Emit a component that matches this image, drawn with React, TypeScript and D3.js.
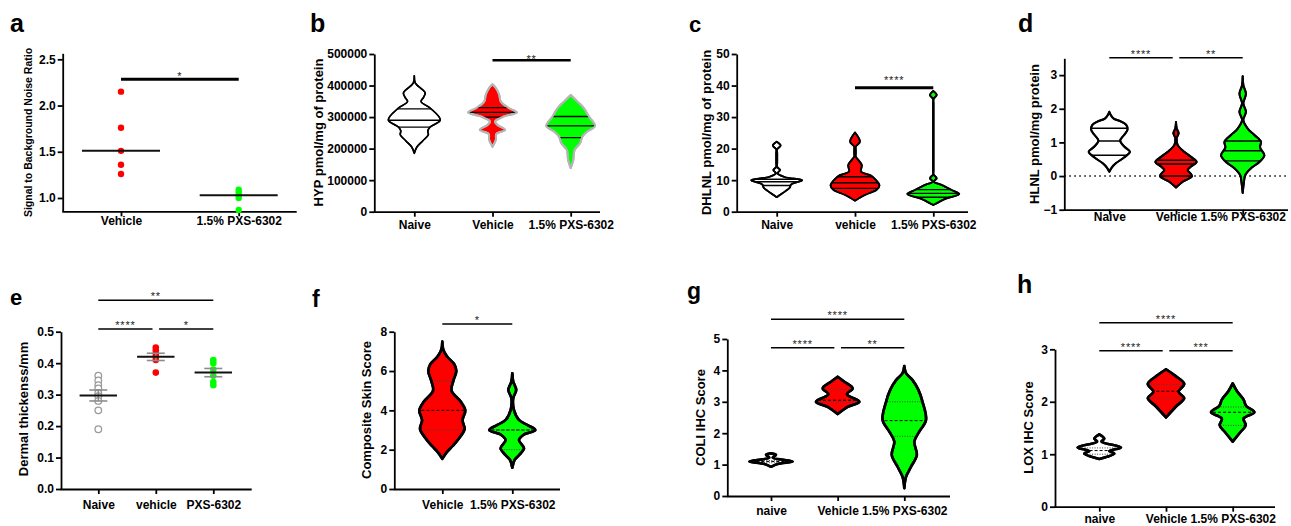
import React, { useRef, useEffect } from "react";
import * as d3 from "d3";

type Prof = [number, number][];

const FONT = "'Liberation Sans', Arial, Helvetica, sans-serif";
const RED = "#ff0000";
const GREEN = "#00ff00";

// ---- panel a: signal / background ----
const catsA = ["Vehicle", "1.5% PXS-6302"];
const ticksA = [1.0, 1.5, 2.0, 2.5];
const aVehicle = [2.15, 1.76, 1.51, 1.36, 1.26];
const aPxs = [1.09, 1.06, 1.03, 1.0, 0.87];

// ---- panel b: HYP (violin profiles: [value, relative density]) ----
const catsB = ["Naive", "Vehicle", "1.5% PXS-6302"];
const ticksB = [0, 100000, 200000, 300000, 400000, 500000];
const bNaive: Prof = [
  [431000, 0], [408000, 0.04], [386000, 0.33], [376000, 0.42], [362000, 0.35], [349000, 0.26],
  [328000, 0.62], [291000, 1.0], [268000, 0.6], [256000, 0.52], [244000, 0.54], [225000, 0.33],
  [205000, 0.1], [185000, 0],
];
const bVehicle: Prof = [
  [404000, 0], [392000, 0.13], [370000, 0.26], [349000, 0.32], [328000, 0.64], [315000, 0.94],
  [302000, 0.45], [286000, 0.1], [275000, 0.19], [259000, 0.49], [247000, 0.15], [228000, 0.13],
  [206000, 0],
];
const bPxs: Prof = [
  [370000, 0], [349000, 0.26], [328000, 0.51], [302000, 0.7], [272000, 0.94], [254000, 0.64],
  [238000, 0.45], [217000, 0.36], [196000, 0.15], [164000, 0.1], [138000, 0],
];
const bQuart = [[268000, 290000, 326000], [300000, 315000, 330000], [235000, 272000, 302000]];

// ---- panel c: DHLNL ----
const catsC = ["Naive", "vehicle", "1.5% PXS-6302"];
const ticksC = [0, 10, 20, 30, 40, 50];
const cNaive: Prof = [
  [22.2, 0], [21, 0.15], [19.8, 0.02], [18.5, 0.02], [17, 0.02], [15.5, 0.02], [14.2, 0.02],
  [13.2, 0.13], [12.2, 0.03], [11, 0.3], [10, 0.98], [9.3, 0.75], [8.6, 0.55], [7.6, 0.5],
  [6.6, 0.35], [5.6, 0.18], [4.6, 0],
];
const cVehicle: Prof = [
  [25.1, 0], [22.2, 0.19], [20.6, 0.03], [19.5, 0.03], [18.5, 0.03], [17.5, 0.03], [14.8, 0.26],
  [12.7, 0.23], [11.6, 0.58], [10.1, 0.8], [8.3, 0.94], [6.9, 0.83], [5.3, 0.38], [3.5, 0],
];
const cPxs: Prof = [
  [38.3, 0], [37, 0.13], [35.7, 0.01], [34.5, 0.01], [33, 0.01], [30, 0.01], [26, 0.01],
  [22, 0.01], [18, 0.01], [15, 0.01], [13, 0.01], [11.8, 0.01], [10.6, 0.13], [9.5, 0.02],
  [8.5, 0.32], [6.9, 0.7], [5.6, 1.0], [4.2, 0.51], [2.1, 0],
];
const cQuart = [[8.3, 9.5, 10.3], [7.4, 9.2, 11.1], [4.6, 5.8, 7.0]];

// ---- panel d: HLNL ----
const catsD = ["Naive", "Vehicle", "1.5% PXS-6302"];
const ticksD = [-1, 0, 1, 2, 3];
const dNaive: Prof = [
  [1.91, 0], [1.78, 0.1], [1.7, 0.22], [1.62, 0.55], [1.52, 0.78], [1.38, 0.84], [1.22, 0.68],
  [1.05, 0.5], [0.87, 0.7], [0.72, 0.95], [0.55, 0.68], [0.38, 0.3], [0.26, 0.12], [0.13, 0],
];
const dVehicle: Prof = [
  [1.61, 0], [1.42, 0.03], [1.27, 0.12], [1.12, 0.03], [0.92, 0.08], [0.72, 0.38], [0.57, 0.69],
  [0.42, 0.95], [0.28, 0.69], [0.18, 0.54], [0.0, 0.74], [-0.17, 0.31], [-0.34, 0],
];
const dPxs: Prof = [
  [2.97, 0], [2.7, 0.03], [2.45, 0.15], [2.16, 0.03], [1.91, 0.15], [1.66, 0.03], [1.41, 0.23],
  [1.22, 0.54], [1.02, 0.84], [0.85, 0.8], [0.62, 1.0], [0.42, 0.77], [0.23, 0.38], [0.03, 0.12],
  [-0.22, 0.05], [-0.5, 0],
];
const dQuart = [[0.62, 1.04, 1.42], [0.0, 0.36, 0.47], [0.45, 0.75, 1.04]];

// ---- panel e: dermal thickness ----
const catsE = ["Naive", "vehicle", "PXS-6302"];
const ticksE = [0, 0.1, 0.2, 0.3, 0.4, 0.5];
const eNaive = [0.36, 0.345, 0.33, 0.32, 0.305, 0.295, 0.28, 0.25, 0.19];
const eVehicle = [0.45, 0.44, 0.43, 0.42, 0.41, 0.37];
const ePxs = [0.41, 0.4, 0.38, 0.36, 0.34, 0.33];

// ---- panel f: composite skin score ----
const catsF = ["Vehicle", "1.5% PXS-6302"];
const ticksF = [0, 2, 4, 6, 8];
const fVehicle: Prof = [
  [7.5, 0], [7.1, 0.04], [6.75, 0.2], [6.35, 0.52], [6.0, 0.61], [5.5, 0.48], [5.0, 0.4],
  [4.45, 0.8], [4.0, 1.0], [3.5, 0.88], [3.05, 0.97], [2.6, 0.74], [2.2, 0.46], [1.85, 0.18],
  [1.53, 0],
];
const fPxs: Prof = [
  [5.89, 0], [5.46, 0.04], [5.04, 0.17], [4.61, 0.04], [4.02, 0.07], [3.51, 0.29], [3.26, 0.65],
  [3.0, 1.0], [2.75, 0.48], [2.49, 0.29], [2.07, 0.51], [1.73, 0.3], [1.48, 0.1], [1.08, 0],
];
const fQuart = [[3.0, 4.0, 5.5], [2.0, 3.0, 3.0]];

// ---- panel g: COLI IHC ----
const catsG = ["naive", "Vehicle", "1.5% PXS-6302"];
const ticksG = [0, 1, 2, 3, 4, 5];
const gNaive: Prof = [[1.36, 0], [1.31, 0.23], [1.22, 0.08], [1.1, 1.0], [1.02, 0.3], [0.93, 0]];
const gVehicle: Prof = [
  [3.8, 0], [3.64, 0.31], [3.43, 0.69], [3.24, 0.43], [3.0, 1.0], [2.84, 0.46], [2.61, 0],
];
const gPxs: Prof = [
  [4.14, 0], [3.91, 0.08], [3.69, 0.38], [3.38, 0.65], [3.0, 0.84], [2.42, 1.0], [2.05, 0.69],
  [1.73, 0.46], [1.31, 0.58], [0.93, 0.31], [0.61, 0.08], [0.25, 0],
];
const gQuart = [[1.06, 1.1, 1.13], [3.0, 3.05, 3.4], [1.9, 2.4, 3.0]];

// ---- panel h: LOX IHC ----
const catsH = ["naive", "Vehicle", "1.5% PXS-6302"];
const ticksH = [0, 1, 2, 3];
const hNaive: Prof = [[1.38, 0], [1.3, 0.23], [1.24, 0.1], [1.13, 1.0], [1.06, 0.46], [1.01, 0.69], [0.91, 0]];
const hVehicle: Prof = [
  [2.62, 0], [2.51, 0.38], [2.34, 0.84], [2.19, 0.58], [2.07, 0.84], [1.91, 0.46], [1.7, 0],
];
const hPxs: Prof = [
  [2.35, 0], [2.2, 0.2], [2.04, 0.5], [1.92, 0.62], [1.8, 1.0], [1.68, 0.5], [1.55, 0.6],
  [1.42, 0.35], [1.24, 0],
];
const hQuart = [[1.0, 1.07, 1.12], [2.07, 2.2, 2.33], [1.55, 1.8, 1.9]];

// ---- layout ----
const frames: any = {
  a: { left: 62.7, right: 296.7, top: 53.3, bottom: 211.3, domain: [0.856, 2.565], ticks: ticksA, fmt: ".1f", cats: catsA, catRange: [121, 238.7], catDy: 13.7, title: "Signal to Background Noise Ratio", titleX: 28, titleY: 132.5, titleSize: 10.5, label: "a", labelX: 10, labelY: 32, labelSize: 25 },
  b: { left: 374.3, right: 600, top: 54, bottom: 211.7, domain: [0, 500000], ticks: ticksB, fmt: "d", cats: catsB, catRange: [414.3, 570.7], catDy: 17.6, title: "HYP pmol/mg of protein", titleX: 318.3, titleY: 132.5, titleSize: 13, label: "b", labelX: 310, labelY: 32, labelSize: 25, maxW: 26 },
  c: { left: 736.7, right: 968, top: 54, bottom: 211.7, domain: [0, 50], ticks: ticksC, fmt: "d", cats: catsC, catRange: [776.7, 933.3], catDy: 17.6, title: "DHLNL pmol/mg of protein", titleX: 706, titleY: 132.5, titleSize: 13, label: "c", labelX: 689, labelY: 32, labelSize: 22, maxW: 26 },
  d: { left: 1064.3, right: 1288, top: 58.3, bottom: 209.7, domain: [-1, 3.5], ticks: ticksD, fmt: "d", cats: catsD, catRange: [1109.3, 1242.7], catDy: 10.8, title: "HLNL pmol/mg protein", titleX: 1034, titleY: 134, titleSize: 13, label: "d", labelX: 1018, labelY: 32, labelSize: 25, maxW: 21.7 },
  e: { left: 61, right: 251.7, top: 331.7, bottom: 489, domain: [0, 0.5], ticks: ticksE, fmt: ".1f", cats: catsE, catRange: [98.3, 213.3], catDy: 19.6, title: "Dermal thickenss/mm", titleX: 23.3, titleY: 409, titleSize: 13, label: "e", labelX: 10, labelY: 305, labelSize: 22 },
  f: { left: 394.3, right: 560, top: 331.7, bottom: 489, domain: [0, 8], ticks: ticksF, fmt: "d", cats: catsF, catRange: [442.3, 512.3], catDy: 19.6, title: "Composite Skin Score", titleX: 366.7, titleY: 410, titleSize: 13, label: "f", labelX: 312, labelY: 306.5, labelSize: 23, maxW: 23 },
  g: { left: 727.3, right: 950, top: 339, bottom: 496, domain: [0, 5], ticks: ticksG, fmt: "d", cats: catsG, catRange: [771, 904.3], catDy: 19, title: "COLI IHC Score", titleX: 700, titleY: 417.5, titleSize: 13, label: "g", labelX: 687, labelY: 299, labelSize: 23, maxW: 21.7 },
  h: { left: 1055, right: 1275, top: 349.3, bottom: 506.7, domain: [0, 3], ticks: ticksH, fmt: "d", cats: catsH, catRange: [1099.3, 1232.7], catDy: 16.6, title: "LOX IHC Score", titleX: 1028.3, titleY: 427.5, titleSize: 13, label: "h", labelX: 1017, labelY: 293.3, labelSize: 25, maxW: 21.7 },
};

const sigBars: any = {
  a: [{ a: 0, b: 1, y: 79.3, t: "*", w: 3, off: 0.8 }],
  b: [{ a: 1, b: 2, y: 60.3, t: "**", w: 2.5, off: 2.7 }],
  c: [{ a: 1, b: 2, y: 87.7, t: "****", w: 3, off: -4.2 }],
  d: [{ a: 0, b: 1, y: 57.7, t: "****", dr: -3.3 }, { a: 1, b: 2, y: 57.7, t: "**", dl: 3.3 }],
  e: [{ a: 0, b: 2, y: 300.3, t: "**" }, { a: 0, b: 1, y: 329, t: "****", dr: -3.3 }, { a: 1, b: 2, y: 329, t: "*", dl: 3.3 }],
  f: [{ a: 0, b: 1, y: 324, t: "*" }],
  g: [{ a: 0, b: 2, y: 319.3, t: "****" }, { a: 0, b: 1, y: 347.7, t: "****", dr: -3.3 }, { a: 1, b: 2, y: 347.7, t: "**", dl: 3.3 }],
  h: [{ a: 0, b: 2, y: 322.7, t: "****" }, { a: 0, b: 1, y: 350.7, t: "****", dr: -3.3 }, { a: 1, b: 2, y: 350.7, t: "***", dl: 3.3 }],
};

function frame(svg: any, f: any) {
  const g = svg.append("g");
  const y = d3.scaleLinear().domain(f.domain).range([f.bottom, f.top]);
  const x = d3.scalePoint<string>().domain(f.cats).range(f.catRange);

  const ya = g
    .append("g")
    .attr("transform", `translate(${f.left},0)`)
    .call(d3.axisLeft(y).tickValues(f.ticks).tickSize(5).tickSizeOuter(0).tickPadding(2).tickFormat(d3.format(f.fmt)));
  ya.attr("font-family", FONT).attr("font-size", 12).attr("font-weight", "bold");
  ya.select(".domain").attr("stroke-width", 1.8);
  ya.selectAll(".tick line").attr("stroke-width", 1.8);

  g.append("line")
    .attr("x1", f.left - 0.4)
    .attr("x2", f.right)
    .attr("y1", f.bottom + 0.5)
    .attr("y2", f.bottom + 0.5)
    .attr("stroke", "#000")
    .attr("stroke-width", 1.8);

  const xa = g
    .append("g")
    .attr("transform", `translate(0,${f.bottom})`)
    .call(d3.axisBottom(x).tickSize(5).tickSizeOuter(0));
  xa.attr("font-family", FONT).attr("font-size", 12).attr("font-weight", "bold");
  xa.select(".domain").remove();
  xa.selectAll(".tick line").attr("stroke-width", 1.8);
  xa.selectAll(".tick text").attr("y", f.catDy).attr("dy", null);

  g.append("text")
    .attr("transform", `translate(${f.titleX},${f.titleY}) rotate(-90)`)
    .attr("dy", "0.35em")
    .attr("text-anchor", "middle")
    .attr("font-family", FONT)
    .attr("font-weight", "bold")
    .attr("font-size", f.titleSize)
    .text(f.title);

  g.append("text")
    .attr("x", f.labelX)
    .attr("y", f.labelY)
    .attr("font-family", FONT)
    .attr("font-weight", "bold")
    .attr("font-size", f.labelSize)
    .text(f.label);

  return { g, x, y };
}

function sig(g: any, x: any, f: any, bars: any[]) {
  bars.forEach((s) => {
    const x1 = x(f.cats[s.a]) + (s.dl || 0);
    const x2 = x(f.cats[s.b]) + (s.dr || 0);
    g.append("line")
      .attr("x1", x1)
      .attr("x2", x2)
      .attr("y1", s.y)
      .attr("y2", s.y)
      .attr("stroke", "#000")
      .attr("stroke-width", s.w || 1.5);
    g.append("text")
      .attr("x", (x1 + x2) / 2)
      .attr("y", s.y + (s.off || 0))
      .attr("text-anchor", "middle")
      .attr("font-family", FONT)
      .attr("font-size", 11)
      .attr("letter-spacing", 0.8)
      .attr("fill", "#222")
      .text(s.t);
  });
}

let clipN = 0;
function violin(g: any, prof: Prof, cx: number, y: any, maxW: number, o: any) {
  const area = d3
    .area<[number, number]>()
    .y((d) => y(d[0]))
    .x0((d) => cx - d[1] * maxW)
    .x1((d) => cx + d[1] * maxW)
    .curve(d3.curveCatmullRom.alpha(0.5));
  const id = `vclip${clipN++}`;
  g.append("clipPath").attr("id", id).append("path").attr("d", area(prof));
  g.append("path")
    .attr("d", area(prof))
    .attr("fill", o.fill)
    .attr("stroke", o.stroke)
    .attr("stroke-width", o.sw)
    .attr("stroke-linejoin", "round");
  const [q1, med, q3] = o.quart;
  const ql = g.append("g").attr("clip-path", `url(#${id})`);
  [q1, med, q3].forEach((q: number, i: number) => {
    const ln = ql
      .append("line")
      .attr("x1", cx - maxW - 3)
      .attr("x2", cx + maxW + 3)
      .attr("y1", y(q))
      .attr("y2", y(q));
    if (o.dashed) {
      ln.attr("stroke", i === 1 ? "#000" : "#444")
        .attr("stroke-width", 1)
        .attr("stroke-dasharray", i === 1 ? "3,2" : "1,1.5");
    } else {
      ln.attr("stroke", "#000").attr("stroke-width", 1.4);
    }
  });
  // redraw the outline on top so lines end at the edge
  g.append("path")
    .attr("d", area(prof))
    .attr("fill", "none")
    .attr("stroke", o.stroke)
    .attr("stroke-width", o.sw)
    .attr("stroke-linejoin", "round");
}

export default function App() {
  const svgRef = useRef<SVGSVGElement>(null);

  useEffect(() => {
    if (!svgRef.current) return;
    const svg = d3.select(svgRef.current);
    svg.selectAll("*").remove();
    clipN = 0;

    // a: dot plot with median
    {
      const f = frames.a;
      const { g, x, y } = frame(svg, f);
      sig(g, x, f, sigBars.a);
      [[aVehicle, RED], [aPxs, GREEN]].forEach(([vals, col]: any, i) => {
        const cx = x(f.cats[i])!;
        g.selectAll(null)
          .data(vals)
          .join("circle")
          .attr("cx", cx)
          .attr("cy", (d: number) => y(d))
          .attr("r", 3.2)
          .attr("fill", col);
        const m = d3.median(vals as number[])!;
        g.append("line")
          .attr("x1", cx - 39)
          .attr("x2", cx + 39)
          .attr("y1", y(m))
          .attr("y2", y(m))
          .attr("stroke", "#111")
          .attr("stroke-width", 2);
      });
    }

    // b: HYP violins
    {
      const f = frames.b;
      const { g, x, y } = frame(svg, f);
      sig(g, x, f, sigBars.b);
      violin(g, bNaive, x(f.cats[0])!, y, f.maxW, { fill: "#fff", stroke: "#000", sw: 1.6, quart: bQuart[0] });
      violin(g, bVehicle, x(f.cats[1])!, y, f.maxW, { fill: RED, stroke: "#b5b5b5", sw: 2, quart: bQuart[1] });
      violin(g, bPxs, x(f.cats[2])!, y, f.maxW, { fill: GREEN, stroke: "#b5b5b5", sw: 2, quart: bQuart[2] });
    }

    // c: DHLNL violins
    {
      const f = frames.c;
      const { g, x, y } = frame(svg, f);
      sig(g, x, f, sigBars.c);
      violin(g, cNaive, x(f.cats[0])!, y, f.maxW, { fill: "#fff", stroke: "#000", sw: 1.8, quart: cQuart[0] });
      violin(g, cVehicle, x(f.cats[1])!, y, f.maxW, { fill: RED, stroke: "#000", sw: 1.8, quart: cQuart[1] });
      violin(g, cPxs, x(f.cats[2])!, y, f.maxW, { fill: GREEN, stroke: "#000", sw: 1.8, quart: cQuart[2] });
    }

    // d: HLNL violins with zero line
    {
      const f = frames.d;
      const { g, x, y } = frame(svg, f);
      g.append("line")
        .attr("x1", f.left)
        .attr("x2", f.right)
        .attr("y1", y(0))
        .attr("y2", y(0))
        .attr("stroke", "#000")
        .attr("stroke-width", 1.5)
        .attr("stroke-dasharray", "1.5,3.5");
      sig(g, x, f, sigBars.d);
      violin(g, dNaive, x(f.cats[0])!, y, f.maxW, { fill: "#fff", stroke: "#000", sw: 2, quart: dQuart[0] });
      violin(g, dVehicle, x(f.cats[1])!, y, f.maxW, { fill: RED, stroke: "#000", sw: 2, quart: dQuart[1] });
      violin(g, dPxs, x(f.cats[2])!, y, f.maxW, { fill: GREEN, stroke: "#000", sw: 2, quart: dQuart[2] });
    }

    // e: dot plot with mean and SEM
    {
      const f = frames.e;
      const { g, x, y } = frame(svg, f);
      sig(g, x, f, sigBars.e);
      const groups: [number[], string, string][] = [
        [eNaive, "#fff", "#9a9a9a"],
        [eVehicle, RED, "none"],
        [ePxs, GREEN, "none"],
      ];
      groups.forEach(([vals, fill, stroke], i) => {
        const cx = x(f.cats[i])!;
        g.selectAll(null)
          .data(vals)
          .join("circle")
          .attr("cx", cx)
          .attr("cy", (d: number) => y(d))
          .attr("r", 3.3)
          .attr("fill", fill)
          .attr("stroke", stroke)
          .attr("stroke-width", 1.3);
        const m = d3.mean(vals)!;
        const sem = d3.deviation(vals)! / Math.sqrt(vals.length);
        [m - sem, m + sem].forEach((v) => {
          g.append("line")
            .attr("x1", cx - 9)
            .attr("x2", cx + 9)
            .attr("y1", y(v))
            .attr("y2", y(v))
            .attr("stroke", "#8c8c8c")
            .attr("stroke-width", 1.6);
        });
        g.append("line")
          .attr("x1", cx)
          .attr("x2", cx)
          .attr("y1", y(m - sem))
          .attr("y2", y(m + sem))
          .attr("stroke", "#8c8c8c")
          .attr("stroke-width", 1.6);
        g.append("line")
          .attr("x1", cx - 18.7)
          .attr("x2", cx + 18.7)
          .attr("y1", y(m))
          .attr("y2", y(m))
          .attr("stroke", "#111")
          .attr("stroke-width", 2);
      });
    }

    // f: composite skin score
    {
      const f = frames.f;
      const { g, x, y } = frame(svg, f);
      sig(g, x, f, sigBars.f);
      violin(g, fVehicle, x(f.cats[0])!, y, f.maxW, { fill: RED, stroke: "#000", sw: 2.6, quart: fQuart[0], dashed: true });
      violin(g, fPxs, x(f.cats[1])!, y, f.maxW, { fill: GREEN, stroke: "#000", sw: 2.6, quart: fQuart[1], dashed: true });
    }

    // g: COLI IHC
    {
      const f = frames.g;
      const { g, x, y } = frame(svg, f);
      sig(g, x, f, sigBars.g);
      violin(g, gNaive, x(f.cats[0])!, y, f.maxW, { fill: "#fff", stroke: "#000", sw: 2.6, quart: gQuart[0], dashed: true });
      violin(g, gVehicle, x(f.cats[1])!, y, f.maxW, { fill: RED, stroke: "#000", sw: 2.6, quart: gQuart[1], dashed: true });
      violin(g, gPxs, x(f.cats[2])!, y, f.maxW, { fill: GREEN, stroke: "#000", sw: 2.6, quart: gQuart[2], dashed: true });
    }

    // h: LOX IHC
    {
      const f = frames.h;
      const { g, x, y } = frame(svg, f);
      sig(g, x, f, sigBars.h);
      violin(g, hNaive, x(f.cats[0])!, y, f.maxW, { fill: "#fff", stroke: "#000", sw: 2.6, quart: hQuart[0], dashed: true });
      violin(g, hVehicle, x(f.cats[1])!, y, f.maxW, { fill: RED, stroke: "#000", sw: 2.6, quart: hQuart[1], dashed: true });
      violin(g, hPxs, x(f.cats[2])!, y, f.maxW, { fill: GREEN, stroke: "#000", sw: 2.6, quart: hQuart[2], dashed: true });
    }
  }, []);

  return (
    <svg
      ref={svgRef}
      width={1291}
      height={526}
      style={{ position: "absolute", left: 0, top: 0, background: "#fff" }}
    />
  );
}
